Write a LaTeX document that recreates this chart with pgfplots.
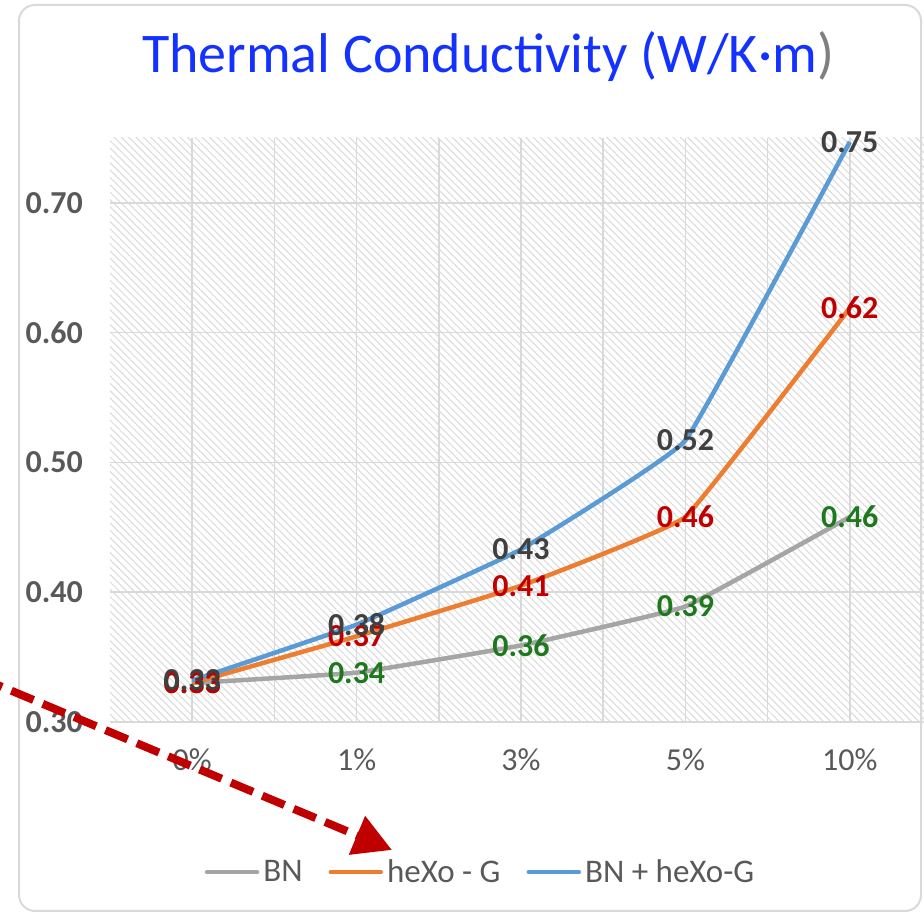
\documentclass[border=0pt]{standalone}
\usepackage{fontspec}
\setmainfont{Carlito}
\usepackage{pgfplots}
\pgfplotsset{compat=1.18}
\usetikzlibrary{patterns.meta,arrows.meta}
\definecolor{titleblue}{RGB}{20,50,255}
\definecolor{parengray}{HTML}{7F7F7F}
\definecolor{ticktext}{HTML}{595959}
\definecolor{gridgray}{HTML}{D9D9D9}
\definecolor{hatchgray}{HTML}{DADADA}
\definecolor{bngray}{HTML}{A5A5A5}
\definecolor{hexoorange}{HTML}{ED7D31}
\definecolor{mixblue}{HTML}{5B9BD5}
\definecolor{lblgreen}{HTML}{1E781E}
\definecolor{lblred}{HTML}{C00000}
\definecolor{lbldark}{HTML}{404040}
\definecolor{arrowred}{HTML}{C00000}
\begin{document}
\begin{tikzpicture}
\useasboundingbox (0,0) rectangle (462pt,456.5pt);
\draw[gridgray, line width=1pt, rounded corners=8pt] (9.5pt,1pt) rectangle (460.5pt,454pt);
\node[anchor=base, inner sep=0pt, font=\fontsize{28}{28}\selectfont] at (244pt,420pt) {\textcolor{titleblue}{Thermal Conductivity (W/K·m}\textcolor{parengray}{)}};
\begin{axis}[
  at={(55pt,95.5pt)}, anchor=south west, width=411pt, height=292pt, scale only axis,
  xmin=-0.5, xmax=4.5, ymin=0.30, ymax=0.75,
  xtick={0,1,2,3,4}, xticklabels={0\%,1\%,3\%,5\%,10\%},
  minor xtick={0.5,1.5,2.5,3.5},
  ytick={0.3,0.4,0.5,0.6,0.7}, yticklabels={0.30,0.40,0.50,0.60,0.70},
  grid=both, grid style={gridgray, line width=0.75pt}, minor grid style={gridgray, line width=0.75pt},
  axis line style={draw=none},
  major tick length=0pt, minor tick length=0pt,
  axis background/.style={pattern={Lines[angle=-45,distance=2.6pt,line width=0.5pt]}, pattern color=hatchgray},
  clip=false,
  yticklabel style={font=\bfseries\fontsize{16}{16}\selectfont, text=ticktext, xshift=-10pt},
  xticklabel style={font=\fontsize{16}{16}\selectfont, text=ticktext, yshift=-10pt},
  legend style={at={(0.452,-0.257)}, anchor=center, draw=none, fill=none, legend columns=3,
    font=\fontsize{16.5}{16.5}\selectfont, text=ticktext,
    /tikz/every even column/.append style={column sep=11pt}},
  legend image code/.code={\draw[line width=2.25pt, line cap=round, #1] (0pt,0pt) -- (25pt,0pt);},
]
\addplot[color=bngray, line width=2.25pt, smooth, tension=0.15, mark=none] coordinates {(0,0.330)(1,0.338)(2,0.359)(3,0.389)(4,0.458)};
\addlegendentry{BN}
\addplot[color=hexoorange, line width=2.25pt, smooth, tension=0.15, mark=none] coordinates {(0,0.330)(1,0.366)(2,0.405)(3,0.458)(4,0.619)};
\addlegendentry{heXo - G}
\addplot[color=mixblue, line width=2.25pt, smooth, tension=0.15, mark=none] coordinates {(0,0.332)(1,0.375)(2,0.433)(3,0.517)(4,0.747)};
\addlegendentry{BN + heXo-G}
\addplot[draw=none, mark=none, forget plot, nodes near coords, point meta=explicit symbolic,
  nodes near coords style={anchor=center, font=\bfseries\fontsize{16}{16}\selectfont, text=lblgreen}]
  coordinates {(0,0.330)[0.33] (1,0.338)[0.34] (2,0.359)[0.36] (3,0.389)[0.39] (4,0.458)[0.46]};
\addplot[draw=none, mark=none, forget plot, nodes near coords, point meta=explicit symbolic,
  nodes near coords style={anchor=center, font=\bfseries\fontsize{16}{16}\selectfont, text=lblred}]
  coordinates {(0,0.330)[0.33] (1,0.366)[0.37] (2,0.405)[0.41] (3,0.458)[0.46] (4,0.619)[0.62]};
\addplot[draw=none, mark=none, forget plot, nodes near coords, point meta=explicit symbolic,
  nodes near coords style={anchor=center, font=\bfseries\fontsize{16}{16}\selectfont, text=lbldark}]
  coordinates {(0,0.332)[0.33] (1,0.375)[0.38] (2,0.433)[0.43] (3,0.517)[0.52] (4,0.747)[0.75]};
\end{axis}
\draw[arrowred, line width=4pt, dash pattern=on 12pt off 5pt, -{Triangle[length=19pt,width=20pt]}] (-10pt,117.7pt) -- (196pt,31.5pt);
\end{tikzpicture}
\end{document}
